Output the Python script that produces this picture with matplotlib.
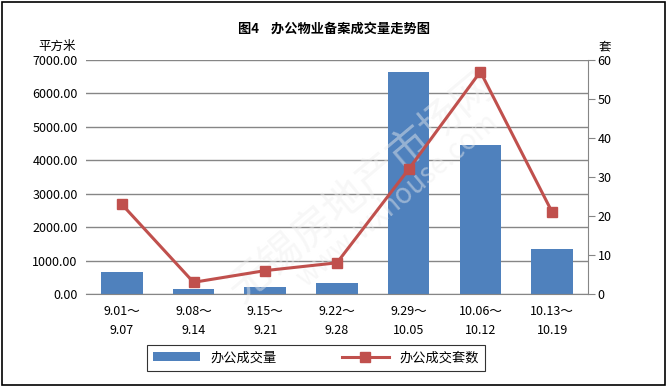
import matplotlib
matplotlib.use("Agg")
import matplotlib.pyplot as plt
from matplotlib.patches import Rectangle
import numpy as np

plt.rcParams['font.family'] = ['Noto Sans CJK SC', 'DejaVu Sans']

# data
periods = ["9.01～\n9.07", "9.08～\n9.14", "9.15～\n9.21", "9.22～\n9.28",
           "9.29～\n10.05", "10.06～\n10.12", "10.13～\n10.19"]
area = [660, 160, 220, 330, 6640, 4460, 1350]
units = [23, 3, 6, 8, 32, 57, 21]

fig = plt.figure(figsize=(6.68, 3.87), dpi=100)
ax1 = fig.add_axes([0.1287, 0.2403, 0.7515, 0.6047])
ax2 = ax1.twinx()

x = np.arange(len(periods))
bars = ax1.bar(x, area, width=0.58, color='#4f81bd', label='办公成交量', zorder=2)
line, = ax2.plot(x, units, color='#c0504d', lw=2.2, marker='s', ms=7,
                 label='办公成交套数', zorder=3)

ax1.set_xlim(-0.5, len(periods) - 0.5)
ax1.set_ylim(0, 7000)
ax1.set_yticks(np.arange(0, 7001, 1000))
ax1.set_yticklabels([f"{v:.2f}" for v in np.arange(0, 7001, 1000)])
ax2.set_ylim(0, 60)
ax2.set_yticks(np.arange(0, 61, 10))

ax1.yaxis.grid(True, color='#868686', lw=1)
ax1.set_axisbelow(True)
ax1.set_xticks(x)
ax1.set_xticklabels(periods, linespacing=1.6)

for s in ['top', 'left', 'right']:
    ax1.spines[s].set_visible(False)
for s in ['top', 'left', 'bottom']:
    ax2.spines[s].set_visible(False)
ax1.spines['bottom'].set_color('#868686')
ax2.spines['right'].set_color('#868686')

ax1.tick_params(axis='y', length=0, labelsize=9, pad=6)
ax1.tick_params(axis='x', length=0, labelsize=9, pad=8)
ax2.tick_params(axis='y', direction='out', length=5, color='#868686',
                labelsize=9, pad=2)

fig.text(0.5, 0.925, "图4    办公物业备案成交量走势图", ha='center', va='center',
         fontsize=9.5, fontweight='bold')
fig.text(0.085, 0.88, "平方米", ha='center', va='center', fontsize=9)
fig.text(0.905, 0.878, "套", ha='center', va='center', fontsize=9)

# watermark
ax1.text(0.55, 0.45, "无锡房地产市场网", transform=ax1.transAxes, fontsize=30,
         rotation=40, color='#eeeeee', alpha=0.45, ha='center', va='center', zorder=4)
ax1.text(0.62, 0.4, "www.wxhouse.com", transform=ax1.transAxes, fontsize=20,
         rotation=40, color='#eeeeee', alpha=0.45, ha='center', va='center', zorder=4)

leg = fig.legend(handles=[bars, line], loc='center', bbox_to_anchor=(0.473, 0.075),
                 ncol=2, frameon=True, fancybox=False, edgecolor='black',
                 fontsize=9.5, columnspacing=5, handlelength=3.5,
                 borderpad=0.5)
leg.get_frame().set_linewidth(0.8)

fig.patches.append(Rectangle((0.003, 0.005), 0.992, 0.99, transform=fig.transFigure,
                             fill=False, edgecolor='black', lw=1.2))

fig.savefig("out.png", dpi=100)
